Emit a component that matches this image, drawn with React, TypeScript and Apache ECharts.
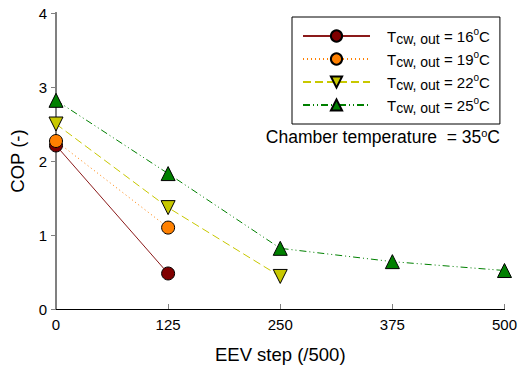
import React, { useEffect, useRef } from "react";
import * as echarts from "echarts";

// EEV step positions on the x axis
const steps = [0, 125, 250, 375, 500];
const xTicks = [0, 125, 250, 375, 500];
const yTicks = [0, 1, 2, 3, 4];

// COP values for each condenser water outlet temperature
const cop16 = [2.21, 0.48];
const cop19 = [2.27, 1.1];
const cop22 = [2.5, 1.37, 0.44];
const cop25 = [2.82, 1.83, 0.82, 0.64, 0.52];

const temps = ["16", "19", "22", "25"];
const chamberTemp = "35";

const FONT = "Liberation Sans, Arial, sans-serif";

const toPairs = (vals: number[]) => vals.map((v, i) => [steps[i], v]);

export default function App() {
  const ref = useRef<HTMLDivElement>(null);

  useEffect(() => {
    if (!ref.current) return;
    const chart = echarts.init(ref.current, null, { renderer: "svg" });

    const mk = (
      name: string,
      vals: number[],
      color: string,
      lineColor: string,
      symbol: string,
      symbolSize: number,
      lineType: any,
      symbolRotate = 0
    ) => ({
      name,
      type: "line",
      data: toPairs(vals),
      symbol,
      symbolSize,
      symbolRotate,
      clip: false,
      lineStyle: { color: lineColor, width: 1, type: lineType },
      itemStyle: { color, borderColor: "#000", borderWidth: 1 },
      z: 3,
    });

    const rich = {
      t: { fontSize: 15, fontFamily: FONT, color: "#000", lineHeight: 20, verticalAlign: "middle" },
      sub: { fontSize: 14, fontFamily: FONT, color: "#000", lineHeight: 20, verticalAlign: "bottom" },
      sup: { fontSize: 10, fontFamily: FONT, color: "#000", lineHeight: 20, verticalAlign: "top" },
    };
    const richBig = {
      t: { fontSize: 17.5, fontFamily: FONT, color: "#000", lineHeight: 20, verticalAlign: "middle" },
      sup: { fontSize: 11, fontFamily: FONT, color: "#000", lineHeight: 20, verticalAlign: "top" },
    };

    chart.setOption({
      animation: false,
      textStyle: { fontFamily: FONT },
      grid: { left: 56, right: 12, top: 13, bottom: 58 },
      legend: {
        orient: "vertical",
        left: 292,
        top: 17,
        width: 211,
        padding: [9, 10, 9, 10],
        itemGap: 3,
        itemWidth: 67,
        itemHeight: 14,
        borderColor: "#000",
        borderWidth: 1,
        data: temps,
        formatter: (name: string) => `{t|T}{sub|cw, out}{t| = ${name}}{sup|o}{t|C}`,
        textStyle: { rich, padding: [0, 0, 0, 12] },
      },
      xAxis: [
        {
          type: "value",
          min: 0,
          max: 500,
          interval: 125,
          position: "bottom",
          axisLine: { lineStyle: { color: "#000", width: 1 } },
          axisTick: { inside: true, length: 5, lineStyle: { color: "#808080" } },
          axisLabel: { color: "#000", fontSize: 15, margin: 8, fontFamily: FONT },
          splitLine: { show: false },
          name: "EEV step (/500)",
          nameLocation: "middle",
          nameGap: 36,
          nameTextStyle: { fontSize: 18.5, color: "#000", fontFamily: FONT },
        },
        {
          type: "value",
          min: 0,
          max: 500,
          position: "top",
          axisLine: { show: true, lineStyle: { color: "#000", width: 1 } },
          axisTick: { show: false },
          axisLabel: { show: false },
          splitLine: { show: false },
        },
      ],
      yAxis: [
        {
          type: "value",
          min: 0,
          max: 4,
          interval: 1,
          position: "left",
          axisLine: { show: true, lineStyle: { color: "#808080", width: 2 } },
          axisTick: { show: true, length: 5, lineStyle: { color: "#808080" } },
          axisLabel: { color: "#000", fontSize: 15, margin: 9, fontFamily: FONT },
          splitLine: { show: false },
          name: "COP (-)",
          nameLocation: "middle",
          nameGap: 29,
          nameTextStyle: { fontSize: 18.5, color: "#000", fontFamily: FONT },
        },
        {
          type: "value",
          min: 0,
          max: 4,
          position: "right",
          axisLine: { show: true, lineStyle: { color: "#808080", width: 2 } },
          axisTick: { show: false },
          axisLabel: { show: false },
          splitLine: { show: false },
        },
      ],
      graphic: [
        {
          type: "text",
          right: 20,
          top: 127,
          style: {
            text: `{t|Chamber temperature  = ${chamberTemp}}{sup|o}{t|C}`,
            rich: richBig,
          },
        },
      ],
      series: [
        mk(temps[0], cop16, "#800000", "#8b1a1a", "circle", 13, "solid"),
        mk(temps[1], cop19, "#ff8000", "#ff8000", "circle", 13, [1, 3]),
        mk(temps[2], cop22, "#c8c800", "#c8c800", "triangle", 14, [8, 4], 180),
        mk(temps[3], cop25, "#008000", "#008000", "triangle", 14, [7, 3, 1, 3, 1, 3]),
      ],
    });

    return () => chart.dispose();
  }, []);

  return (
    <div
      ref={ref}
      style={{ position: "absolute", left: 0, top: 0, width: 520, height: 369 }}
    />
  );
}
